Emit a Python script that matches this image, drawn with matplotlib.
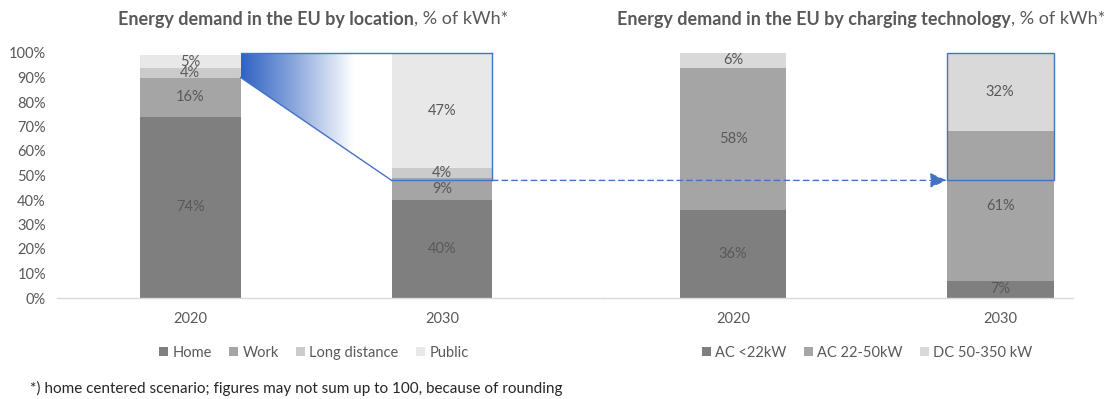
import numpy as np
import matplotlib
matplotlib.use("Agg")
import matplotlib.pyplot as plt
from matplotlib.patches import Polygon, Rectangle, ConnectionPatch
from matplotlib.colors import LinearSegmentedColormap

plt.rcParams['font.family'] = ['Lato', 'DejaVu Sans']

years = ["2020", "2030"]

loc_labels = ["Home", "Work", "Long distance", "Public"]
loc_home = [74, 40]
loc_work = [16, 9]
loc_long = [4, 4]
loc_public = [5, 47]

tech_labels = ["AC <22kW", "AC 22-50kW", "DC 50-350 kW"]
tech_ac_slow = [36, 7]
tech_ac_fast = [58, 61]
tech_dc = [6, 32]

highlight_level = 48  # share shifted to the public segment by 2030

TXT = "#595959"
BLUE = "#4472C4"
loc_colors = ["#7f7f7f", "#a5a5a5", "#cbcbcb", "#e8e8e8"]
tech_colors = ["#7f7f7f", "#a5a5a5", "#d9d9d9"]

fig = plt.figure(figsize=(11.09, 3.99), dpi=100)
bottom = (399 - 298) / 399
height = 245 / 399
axL = fig.add_axes([57 / 1109, bottom, (603 - 57) / 1109, height])
axR = fig.add_axes([603 / 1109, bottom, (1073 - 603) / 1109, height])

W = 0.4
x = np.arange(len(years))
XLIM_L = (-0.53, 1.64)
XLIM_R = (-0.487, 1.273)


def stacked(ax, series, colors, labels):
    base = np.zeros(len(years))
    handles = []
    for vals, c, lab in zip(series, colors, labels):
        vals = np.array(vals, dtype=float)
        b = ax.bar(x, vals, W, bottom=base, color=c, label=lab, zorder=2)
        handles.append(b)
        for xi, v, b0 in zip(x, vals, base):
            ax.text(xi, b0 + v / 2, f"{int(v)}%", ha="center", va="center",
                    fontsize=10.5, color=TXT, zorder=5)
        base += vals
    return handles


hL = stacked(axL, [loc_home, loc_work, loc_long, loc_public], loc_colors, loc_labels)
hR = stacked(axR, [tech_ac_slow, tech_ac_fast, tech_dc], tech_colors, tech_labels)

for ax in (axL, axR):
    ax.set_ylim(0, 100)
    for s in ("top", "right", "left"):
        ax.spines[s].set_visible(False)
    ax.spines["bottom"].set_color("#d9d9d9")
    ax.spines["bottom"].set_linewidth(1.0)
    ax.set_xticks(x)
    ax.set_xticklabels(years)
    ax.tick_params(axis="x", length=0, pad=10, labelsize=10.5, labelcolor=TXT)
    ax.tick_params(axis="y", length=0, labelsize=10.5, labelcolor=TXT)
    ax.set_facecolor("none")

axR.set_xlim(*XLIM_R)
axL.set_yticks(np.arange(0, 101, 10))
axL.set_yticklabels([f"{v}%" for v in range(0, 101, 10)])
axL.tick_params(axis="y", pad=8)
axR.set_yticks([])

# gradient wedge from the 2020 home+work top to the 2030 public segment
top20 = loc_home[0] + loc_work[0]
x0, x1 = x[0] + W / 2, x[1] - W / 2
poly = Polygon([(x0, 100), (x1, 100), (x1, highlight_level), (x0, top20)],
               closed=True, facecolor="none", edgecolor="none")
axL.add_patch(poly)
cmap = LinearSegmentedColormap.from_list(
    "fade", [(0.0, "#2f63c4"), (0.35, "#8aa6dc"), (0.75, "#ffffff"), (1.0, "#ffffff")])
grad = np.linspace(0, 1, 256).reshape(1, -1)
im = axL.imshow(grad, extent=[x0, x1, highlight_level, 100], aspect="auto",
                cmap=cmap, zorder=3, interpolation="bilinear")
im.set_clip_path(poly)

x2 = x[1] + W / 2
axL.plot([x0, x2], [100, 100], color=BLUE, lw=1.0, zorder=4, clip_on=False)
axL.plot([x0, x1], [top20, highlight_level], color=BLUE, lw=1.0, zorder=4)
axL.plot([x1, x2], [highlight_level, highlight_level], color=BLUE, lw=1.0, zorder=4)
axL.plot([x2, x2], [highlight_level, 100], color=BLUE, lw=1.0, zorder=4, clip_on=False)
axL.set_xlim(*XLIM_L)
axL.set_ylim(0, 100)

# box around the fast-charging share in 2030
axR.add_patch(Rectangle((x[1] - W / 2, highlight_level), W, 100 - highlight_level,
                        fill=False, edgecolor=BLUE, lw=1.0, zorder=4, clip_on=False))

con = ConnectionPatch(xyA=(x2, highlight_level), coordsA=axL.transData,
                      xyB=(x[1] - W / 2, highlight_level), coordsB=axR.transData,
                      arrowstyle="-|>,head_length=1.0,head_width=0.45",
                      linestyle=(0, (4, 3)), color=BLUE, lw=1.0, zorder=6,
                      shrinkA=0, shrinkB=0)
fig.add_artist(con)


# titles: bold lead-in followed by regular unit text
def title(xpix, bold, rest):
    t = fig.text(xpix / 1109, 1 - 19 / 399, bold, fontsize=13, fontweight="bold",
                 color=TXT, ha="left", va="center")
    fig.canvas.draw()
    bb = t.get_window_extent()
    fig.text(bb.x1 / 1109, 1 - 19 / 399, rest, fontsize=13, color=TXT,
             ha="left", va="center")


title(118, "Energy demand in the EU by location", ", % of kWh*")
title(617, "Energy demand in the EU by charging technology", ", % of kWh*")

legkw = dict(frameon=False, handlelength=0.6, handleheight=0.6, handletextpad=0.3,
             columnspacing=1.2, fontsize=10.5, labelcolor=TXT, loc="center")
fig.legend(handles=hL, labels=loc_labels, ncol=4,
           bbox_to_anchor=(314 / 1109, 1 - 353 / 399), **legkw)
fig.legend(handles=hR, labels=tech_labels, ncol=3,
           bbox_to_anchor=(867 / 1109, 1 - 353 / 399), **legkw)

fig.text(30 / 1109, 1 - 388 / 399,
         "*) home centered scenario; figures may not sum up to 100, because of rounding",
         fontsize=11, color="#262626", ha="left", va="center")

fig.savefig("out.png", dpi=100)
